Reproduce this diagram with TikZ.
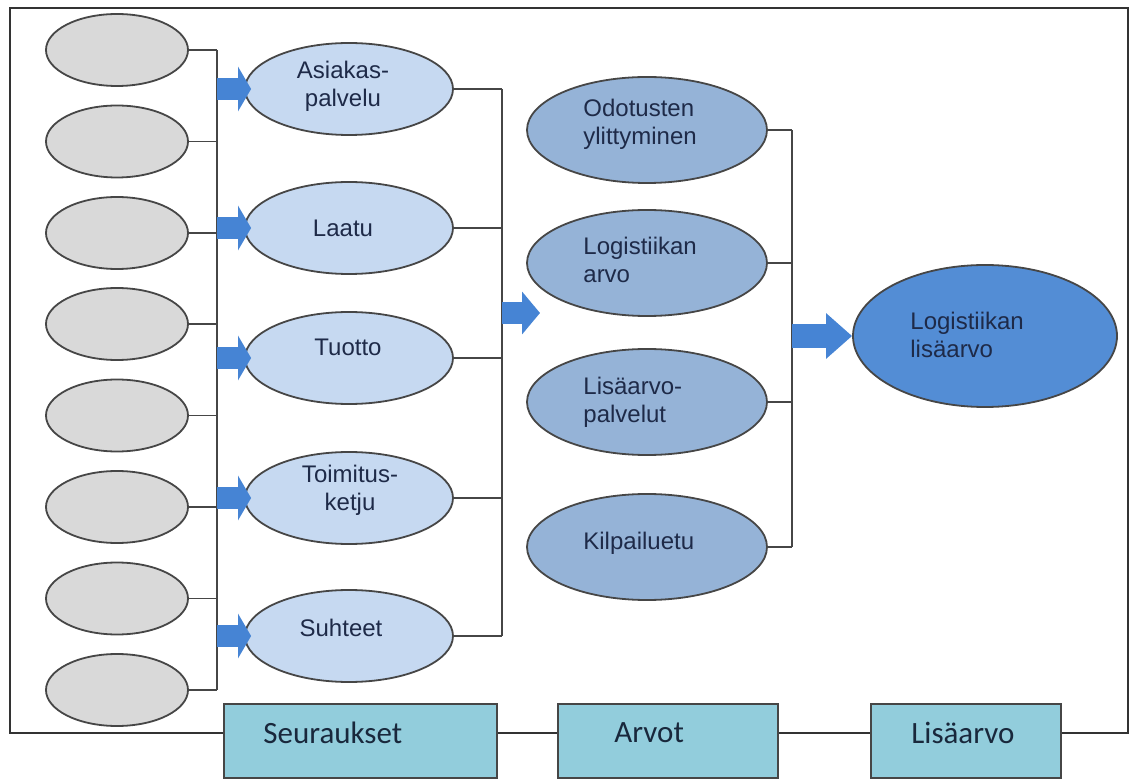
\documentclass[tikz,border=0pt]{standalone}
\usepackage{fontspec}
\setmainfont{Liberation Sans}
\newfontfamily\boxfont{Carlito}
\usetikzlibrary{arrows.meta,shapes.geometric}
\definecolor{grayfill}{RGB}{217,217,217}
\definecolor{edgegray}{RGB}{70,70,70}
\definecolor{lightfill}{RGB}{198,217,241}
\definecolor{midfill}{RGB}{149,179,215}
\definecolor{bigfill}{RGB}{83,141,213}
\definecolor{arrowblue}{RGB}{70,132,212}
\definecolor{boxfill}{RGB}{146,205,220}
\definecolor{navy}{RGB}{30,42,72}
\definecolor{boxtext}{RGB}{25,40,60}
\begin{document}
\begin{tikzpicture}[x=0.5pt,y=-0.5pt,
  ell/.style={ellipse, draw=edgegray, line width=0.9pt, inner sep=0pt},
  grayell/.style={ell, fill=grayfill, minimum width=71pt, minimum height=36pt},
  lightell/.style={ell, fill=lightfill, minimum width=104pt, minimum height=46pt},
  midell/.style={ell, fill=midfill, minimum width=120pt, minimum height=53pt},
  bigell/.style={ell, fill=bigfill, minimum width=132pt, minimum height=71pt},
  txt/.style={font=\fontsize{12}{14}\selectfont, text=navy, inner sep=0pt, align=center},
  ltxt/.style={txt, align=left, anchor=west},
  conn/.style={draw=edgegray, line width=0.8pt},
  frameline/.style={draw=black!80, line width=1.3pt},
  fatarrow/.style={draw=arrowblue, line width=11pt, -{Triangle[width=22pt,length=6.5pt]}},
  boxst/.style={rectangle, draw=edgegray, line width=1pt, fill=boxfill, inner sep=0pt, minimum height=37pt},
  boxlabel/.style={font=\boxfont\fontsize{15.5}{18}\selectfont, text=boxtext, inner sep=0pt, anchor=west}
]
\useasboundingbox (0,0) rectangle (1135,780);
% frame
\draw[frameline] (10,8) rectangle (1128,733);

% gray ellipses
\coordinate (b1top) at (217,50);
\coordinate (b1bot) at (217,690);
\foreach \i/\y in {1/50,2/141.5,3/233,4/324,5/415.5,6/507,7/598.5,8/690}{
  \node[grayell] (g\i) at (117,\y) {};
  \draw[conn] (g\i.east) -- (g\i.east -| b1top);
}
\draw[conn] (b1top) -- (b1bot);

% light ellipses
\coordinate (b2top) at (502,89);
\coordinate (b2bot) at (502,636);
\foreach \i/\y in {1/89,2/228,3/358,4/498,5/636}{
  \node[lightell] (l\i) at (349,\y) {};
  \draw[conn] (l\i.east) -- (l\i.east -| b2top);
  \draw[fatarrow, shorten >=-3.5pt] (l\i.west -| b1top) -- (l\i.west);
}
\draw[conn] (b2top) -- (b2bot);
\node[txt] (t1) at (343,86) {Asiakas-\\palvelu};
\node[txt] (t2) at (343,228) {Laatu};
\node[txt] (t3) at (348,347) {Tuotto};
\node[txt] (t4) at (350,490) {Toimitus-\\ketju};
\node[txt] (t5) at (341,628) {Suhteet};

% middle arrow
\coordinate (m1s) at (502,313);
\coordinate (m1e) at (540,313);
\draw[draw=arrowblue, line width=11pt, -{Triangle[width=21pt,length=9pt]}] (m1s) -- (m1e);

% mid ellipses
\coordinate (b3top) at (792,130);
\coordinate (b3bot) at (792,547);
\foreach \i/\y in {1/130,2/263,3/402,4/547}{
  \node[midell] (d\i) at (647,\y) {};
  \draw[conn] (d\i.east) -- (d\i.east -| b3top);
}
\draw[conn] (b3top) -- (b3bot);
\node[ltxt] (u1) at (583,124) {Odotusten\\ylittyminen};
\node[ltxt] (u2) at (583,260) {Logistiikan\\arvo};
\node[ltxt] (u3) at (583,402) {Lisäarvo-\\palvelut};
\node[ltxt] (u4) at (583,543) {Kilpailuetu};

% big ellipse
\node[bigell] (B) at (985,336) {};
\node[ltxt] (bt) at (910,335) {Logistiikan\\lisäarvo};
\draw[draw=arrowblue, line width=12pt, -{Triangle[width=22pt,length=13pt]}] (B.west -| b3top) -- (B.west);

% bottom boxes
\node[boxst, minimum width=136.5pt] (s1) at (360.5,741) {};
\node[boxst, minimum width=110pt] (s2) at (668,741) {};
\node[boxst, minimum width=95pt] (s3) at (966,741) {};
\node[boxlabel] (s1t) at (263,733) {Seuraukset};
\node[boxlabel] (s2t) at (614,733) {Arvot};
\node[boxlabel] (s3t) at (911,733) {Lisäarvo};
\end{tikzpicture}
\end{document}
